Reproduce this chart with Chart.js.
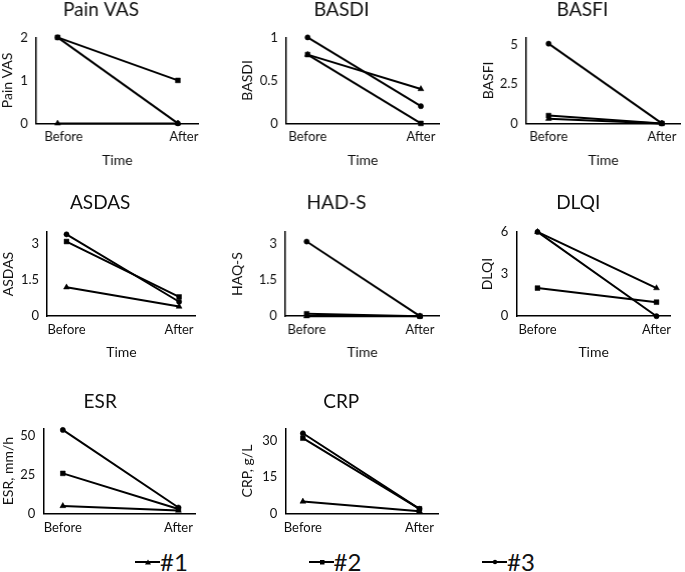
<!DOCTYPE html>
<html>
<head>
<meta charset="utf-8">
<script src="https://cdn.jsdelivr.net/npm/chart.js@4.4.1/dist/chart.umd.min.js"></script>
<style>
  html, body { margin: 0; padding: 0; background: #fff; }
  body { width: 685px; height: 572px; position: relative; overflow: hidden; font-family: Lato, sans-serif; color: #111; }
  .panel { position: absolute; }
  .legend-item { position: absolute; top: 548px; height: 28px; display: flex; align-items: center; font-size: 24px; line-height: 28px; }
  .legend-item svg { display: block; }
</style>
</head>
<body>
<div id="legend"></div>
<script>
const timepoints = ['Before', 'After'];
const patients = ['#1', '#2', '#3'];
const markers = ['triangle', 'rect', 'circle'];
const markerSizes = [3.4, 3.4, 2.6];

// one [before, after] pair per patient (#1, #2, #3)
const painVAS = [[0, 0], [2, 1], [2, 0]];
const basdi = [[0.8, 0.4], [0.8, 0], [1, 0.2]];
const basfi = [[0.3, 0], [0.5, 0], [5.1, 0]];
const asdas = [[1.2, 0.4], [3.1, 0.8], [3.4, 0.6]];
const hads = [[0, 0], [0.1, 0], [3.1, 0]];
const dlqi = [[6, 2], [2, 1], [6, 0]];
const esr = [[5, 2], [26, 3], [54, 4]];
const crp = [[5, 1], [31, 2], [33, 2]];

const painVASTicks = [0, 1, 2];
const basdiTicks = [0, 0.5, 1];
const basfiTicks = [0, 2.5, 5];
const asdasTicks = [0, 1.5, 3];
const hadsTicks = [0, 1.5, 3];
const dlqiTicks = [0, 3, 6];
const esrTicks = [0, 25, 50];
const crpTicks = [0, 15, 30];

// layout: plot = [left, right, top, bottom] of the axes box
const panels = [
    { title: 'Pain VAS', yTitle: 'Pain VAS', values: painVAS, ticks: painVASTicks, yMax: 2, time: true,
      plot: [36, 202, 37, 123], beforeX: 58, afterX: 181, yGap: 28.5, titleGap: 28, labelShift: 6 },
    { title: 'BASDI', yTitle: 'BASDI', values: basdi, ticks: basdiTicks, yMax: 1, time: true,
      plot: [286, 443, 37, 123], beforeX: 308, afterX: 424, yGap: 38.5, titleGap: 28 },
    { title: 'BASFI', yTitle: 'BASFI', values: basfi, ticks: basfiTicks, yMax: 5.5, time: true,
      plot: [526, 684, 37, 123], beforeX: 549, afterX: 665, yGap: 37.5, titleGap: 28 },
    { title: 'ASDAS', yTitle: 'ASDAS', values: asdas, ticks: asdasTicks, yMax: 3.5, time: true,
      plot: [46.7, 200, 231.7, 316], beforeX: 66.7, afterX: 182.7, yGap: 38.7, titleGap: 29.5 },
    { title: 'HAD-S', yTitle: 'HAQ-S', values: hads, ticks: hadsTicks, yMax: 3.5, time: true,
      plot: [285, 443, 231.7, 316], beforeX: 307, afterX: 423, yGap: 47.5, titleGap: 29.5 },
    { title: 'DLQI', yTitle: 'DLQI', values: dlqi, ticks: dlqiTicks, yMax: 6, time: true,
      plot: [516, 677, 231.7, 316], beforeX: 538, afterX: 662, yGap: 29, titleGap: 29.5 },
    { title: 'ESR', yTitle: 'ESR, mm/h', values: esr, ticks: esrTicks, yMax: 55, time: false,
      plot: [43, 200, 428, 513.3], beforeX: 63, afterX: 182, yGap: 35, titleGap: 27 },
    { title: 'CRP', yTitle: 'CRP, g/L', values: crp, ticks: crpTicks, yMax: 35, time: false,
      plot: [285, 443, 428, 513.3], beforeX: 303, afterX: 423, yGap: 38, titleGap: 27 }
];

Chart.defaults.font.family = 'Lato, sans-serif';
Chart.defaults.color = '#111';

function makePanel(p) {
    const [left, right, top, bottom] = p.plot;
    const yw = p.yGap + 8.4;
    const titleH = p.titleGap + 11.4;
    const xh = p.time ? 45 : 26;

    const div = document.createElement('div');
    div.className = 'panel';
    div.style.left = (left - yw) + 'px';
    div.style.top = (top - titleH) + 'px';
    div.style.width = (right - left + yw) + 'px';
    div.style.height = (bottom - top + titleH + xh) + 'px';
    const canvas = document.createElement('canvas');
    div.appendChild(canvas);
    document.body.appendChild(div);

    const ppu = p.afterX - p.beforeX;
    const axisBorder = { display: true, color: '#000', width: 1.5 };

    new Chart(canvas, {
        type: 'line',
        data: {
            datasets: p.values.map((vals, i) => ({
                label: patients[i],
                data: vals.map((v, j) => ({ x: j, y: v })),
                borderColor: '#000',
                borderWidth: 2,
                pointStyle: markers[i],
                pointRadius: markerSizes[i],
                pointBackgroundColor: '#000',
                pointBorderColor: '#000',
                pointBorderWidth: 0.5,
                tension: 0,
                clip: false
            }))
        },
        options: {
            responsive: true,
            maintainAspectRatio: false,
            animation: false,
            devicePixelRatio: 1,
            layout: { padding: 0 },
            plugins: {
                legend: { display: false },
                tooltip: { enabled: false },
                title: {
                    display: true,
                    text: p.title,
                    font: { size: 19, weight: 'normal', lineHeight: 1.2 },
                    color: '#111',
                    padding: { top: 0, bottom: titleH - 22.8 }
                }
            },
            scales: {
                x: {
                    type: 'linear',
                    min: -(p.beforeX - left) / ppu,
                    max: 1 + (right - p.afterX) / ppu,
                    grid: { display: false, drawTicks: false },
                    border: axisBorder,
                    afterBuildTicks: s => { s.ticks = timepoints.map((t, i) => ({ value: i })); },
                    ticks: {
                        font: { size: 13 },
                        padding: 6,
                        maxRotation: 0,
                        autoSkip: false,
                        labelOffset: p.labelShift || 0,
                        callback: v => timepoints[v]
                    },
                    title: { display: p.time, text: 'Time', font: { size: 14 }, padding: 0 },
                    afterFit: s => { s.height = xh; }
                },
                y: {
                    min: 0,
                    max: p.yMax,
                    grid: { display: false, drawTicks: false },
                    border: axisBorder,
                    afterBuildTicks: s => { s.ticks = p.ticks.map(v => ({ value: v })); },
                    ticks: { font: { size: 13 }, padding: 8, callback: v => String(v) },
                    title: { display: true, text: p.yTitle, font: { size: 14 }, padding: 0 },
                    afterFit: s => { s.width = yw; }
                }
            }
        }
    });
}

panels.forEach(makePanel);

// legend across the bottom
const legend = document.getElementById('legend');
const legendMarks = [
    '<polygon points="10,7.5 16,7.5 13,2.5" fill="#000"/>',
    '<rect x="11" y="3" width="4.5" height="4.5" fill="#000"/>',
    '<circle cx="13" cy="5" r="2.2" fill="#000"/>'
];
patients.forEach((name, i) => {
    const item = document.createElement('div');
    item.className = 'legend-item';
    item.style.left = (135 + i * 173.5) + 'px';
    item.innerHTML = '<svg width="25" height="10"><line x1="0" y1="5" x2="25" y2="5" stroke="#000" stroke-width="2"/>'
        + legendMarks[i] + '</svg><span>' + name + '</span>';
    legend.appendChild(item);
});
</script>
</body>
</html>
